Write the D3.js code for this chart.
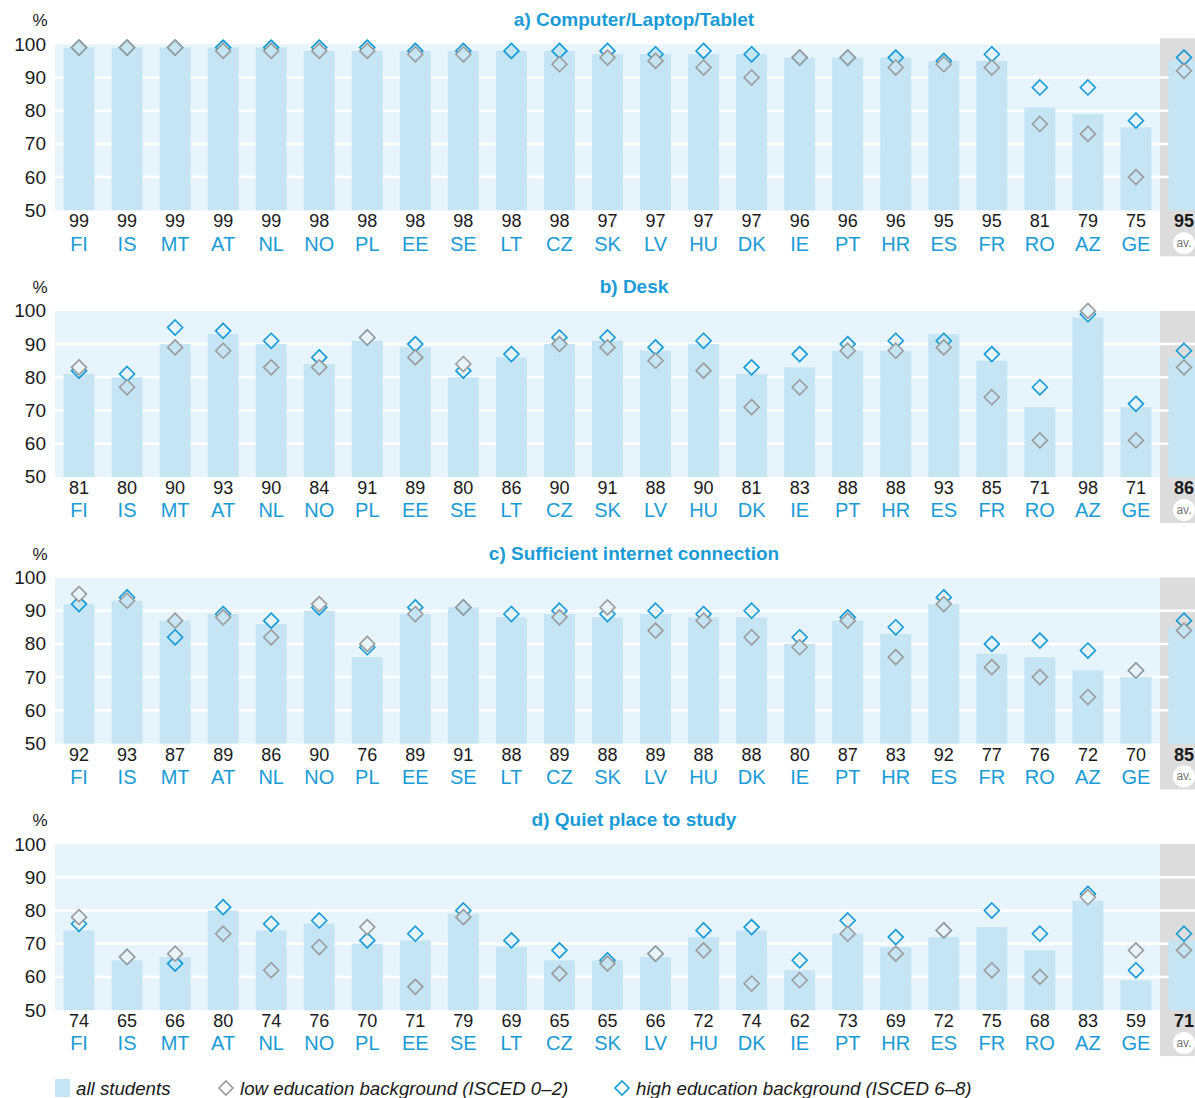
<!DOCTYPE html>
<html>
<head>
<meta charset="utf-8">
<script src="https://cdn.jsdelivr.net/npm/d3@7"></script>
<style>
  body { margin: 0; background: #fff; }
  svg { display: block; }
</style>
</head>
<body>
<svg id="chart"></svg>
<script>
// data, last entry of every series = average
const countries = ["FI", "IS", "MT", "AT", "NL", "NO", "PL", "EE", "SE", "LT", "CZ", "SK",
    "LV", "HU", "DK", "IE", "PT", "HR", "ES", "FR", "RO", "AZ", "GE", "av."];

const titles = ["a) Computer/Laptop/Tablet", "b) Desk", "c) Sufficient internet connection", "d) Quiet place to study"];
const yTicks = [50, 60, 70, 80, 90, 100];

const computerAll  = [99, 99, 99, 99, 99, 98, 98, 98, 98, 98, 98, 97, 97, 97, 97, 96, 96, 96, 95, 95, 81, 79, 75, 95];
const computerLow  = [99, 99, 99, 98, 98, 98, 98, 97, 97, null, 94, 96, 95, 93, 90, 96, 96, 93, 94, 93, 76, 73, 60, 92];
const computerHigh = [99, 99, 99, 99, 99, 99, 99, 98, 98, 98, 98, 98, 97, 98, 97, 96, 96, 96, 95, 97, 87, 87, 77, 96];

const deskAll  = [81, 80, 90, 93, 90, 84, 91, 89, 80, 86, 90, 91, 88, 90, 81, 83, 88, 88, 93, 85, 71, 98, 71, 86];
const deskLow  = [83, 77, 89, 88, 83, 83, 92, 86, 84, null, 90, 89, 85, 82, 71, 77, 88, 88, 89, 74, 61, 100, 61, 83];
const deskHigh = [82, 81, 95, 94, 91, 86, 92, 90, 82, 87, 92, 92, 89, 91, 83, 87, 90, 91, 91, 87, 77, 99, 72, 88];

const internetAll  = [92, 93, 87, 89, 86, 90, 76, 89, 91, 88, 89, 88, 89, 88, 88, 80, 87, 83, 92, 77, 76, 72, 70, 85];
const internetLow  = [95, 93, 87, 88, 82, 92, 80, 89, 91, null, 88, 91, 84, 87, 82, 79, 87, 76, 92, 73, 70, 64, 72, 84];
const internetHigh = [92, 94, 82, 89, 87, 91, 79, 91, 91, 89, 90, 89, 90, 89, 90, 82, 88, 85, 94, 80, 81, 78, 72, 87];

const quietAll  = [74, 65, 66, 80, 74, 76, 70, 71, 79, 69, 65, 65, 66, 72, 74, 62, 73, 69, 72, 75, 68, 83, 59, 71];
const quietLow  = [78, 66, 67, 73, 62, 69, 75, 57, 78, null, 61, 64, 67, 68, 58, 59, 73, 67, 74, 62, 60, 84, 68, 68];
const quietHigh = [76, 66, 64, 81, 76, 77, 71, 73, 80, 71, 68, 65, 67, 74, 75, 65, 77, 72, 74, 80, 73, 85, 62, 73];

const legendLabels = ["all students", "low education background (ISCED 0–2)", "high education background (ISCED 6–8)"];

const panels = [
    { title: titles[0], all: computerAll, low: computerLow, high: computerHigh },
    { title: titles[1], all: deskAll, low: deskLow, high: deskHigh },
    { title: titles[2], all: internetAll, low: internetLow, high: internetHigh },
    { title: titles[3], all: quietAll, low: quietLow, high: quietHigh }
];

const width = 1195;
const height = 1098;
const bandColor = "#e8f4fb";
const barColor = "#c5e5f5";
const greyColumn = "#dcdcdc";
const blue = "#1a9bd7";
const diamondBlue = "#0e9ad6";
const diamondGrey = "#9b9b9b";
const numFont = "'Liberation Sans', Arial, sans-serif";
const narrowFont = "'Liberation Sans Narrow', 'Liberation Sans', sans-serif";

const svg = d3.select("#chart")
    .attr("width", width)
    .attr("height", height);

// one band scale for all panels, the average sits in the last slot
const x = d3.scaleBand()
    .domain(countries)
    .range([55, 1208])
    .paddingInner(0.355)
    .paddingOuter(0.1775);
const step = x.step();
const plotLeft = 55;
const avLeft = plotLeft + step * (countries.length - 1);

function diamond(cx, cy, r) {
    return `M${cx},${cy - r}L${cx + r},${cy}L${cx},${cy + r}L${cx - r},${cy}Z`;
}

function drawPanel(panel, i) {
    let top = 44.3 + i * 266.6;
    let y = d3.scaleLinear().domain([50, 100]).range([top + 166, top]);
    let bottom = y(50);
    let g = svg.append("g").attr("class", "panel");

    // background band and the grey average column
    g.append("rect")
        .attr("x", plotLeft).attr("y", top)
        .attr("width", avLeft - plotLeft).attr("height", bottom - top)
        .attr("fill", bandColor);
    g.append("rect")
        .attr("x", avLeft).attr("y", i == 0 ? top - 6 : top)
        .attr("width", 1208 - avLeft).attr("height", bottom - top + 46 + (i == 0 ? 6 : 0))
        .attr("fill", greyColumn);

    // white gridlines
    g.selectAll(".grid")
        .data(yTicks.filter(t => t > 50 && t < 100))
        .enter()
        .append("line")
        .attr("x1", plotLeft).attr("x2", 1208)
        .attr("y1", d => y(d)).attr("y2", d => y(d))
        .attr("stroke", "#fff")
        .attr("stroke-width", 2.5);

    // bars for all students
    g.selectAll(".bar")
        .data(countries)
        .enter()
        .append("rect")
        .attr("x", d => x(d))
        .attr("width", x.bandwidth())
        .attr("y", (d, k) => y(panel.all[k]))
        .attr("height", (d, k) => bottom - y(panel.all[k]))
        .attr("fill", barColor);

    // diamonds: high first, low on top
    let series = [[panel.high, diamondBlue], [panel.low, diamondGrey]];
    for (let [values, color] of series) {
        g.selectAll(null)
            .data(countries.map((c, k) => ({ c: c, v: values[k], a: panel.all[k] })).filter(d => d.v != null))
            .enter()
            .append("path")
            .attr("d", d => diamond(x(d.c) + x.bandwidth() / 2, y(d.v), 7.5))
            .attr("fill", d => d.v <= d.a ? barColor : (d.c == "av." ? greyColumn : bandColor))
            .attr("stroke", color)
            .attr("stroke-width", 1.6);
    }

    // y axis labels
    let axisY = d3.axisLeft(y).tickValues(yTicks).tickSize(0).tickPadding(0);
    let ya = g.append("g")
        .attr("transform", `translate(46, 0)`)
        .call(axisY);
    ya.select(".domain").remove();
    ya.selectAll("text")
        .attr("fill", "#1a1a1a")
        .style("font-family", numFont)
        .style("font-size", "19px");

    g.append("text")
        .attr("x", 40).attr("y", top - 18)
        .attr("text-anchor", "middle")
        .attr("fill", "#1a1a1a")
        .style("font-family", numFont)
        .style("font-size", "17px")
        .text("%");

    g.append("text")
        .attr("x", 634).attr("y", top - 18)
        .attr("text-anchor", "middle")
        .attr("fill", blue)
        .style("font-family", narrowFont)
        .style("font-weight", "bold")
        .style("font-size", "19px")
        .text(panel.title);

    // values under the bars
    g.selectAll(".val")
        .data(countries)
        .enter()
        .append("text")
        .attr("x", d => x(d) + x.bandwidth() / 2)
        .attr("y", bottom + 17)
        .attr("text-anchor", "middle")
        .attr("fill", "#1a1a1a")
        .style("font-family", numFont)
        .style("font-size", "18px")
        .style("font-weight", d => d == "av." ? "bold" : "normal")
        .text((d, k) => panel.all[k]);

    // white circle behind "av."
    g.append("circle")
        .attr("cx", x("av.") + x.bandwidth() / 2)
        .attr("cy", bottom + 33)
        .attr("r", 11)
        .attr("fill", "#fff");

    // country labels
    let axisX = d3.axisBottom(x).tickSize(0).tickPadding(0);
    let xa = g.append("g")
        .attr("transform", `translate(0, ${bottom + 26})`)
        .call(axisX);
    xa.select(".domain").remove();
    xa.selectAll("text")
        .attr("fill", d => d == "av." ? "#777" : blue)
        .style("font-family", d => d == "av." ? numFont : narrowFont)
        .style("font-size", d => d == "av." ? "12px" : "20px")
        .attr("dy", d => d == "av." ? "0.3em" : "0.71em")
        .attr("y", d => d == "av." ? 7 : 0);
}

panels.forEach(drawPanel);

// legend
let legend = svg.append("g").attr("transform", "translate(0, 1088)");
legend.append("rect")
    .attr("x", 55).attr("y", -9)
    .attr("width", 15).attr("height", 18)
    .attr("fill", barColor);
legend.append("path")
    .attr("d", diamond(226, 0, 7))
    .attr("fill", "none")
    .attr("stroke", diamondGrey)
    .attr("stroke-width", 1.6);
legend.append("path")
    .attr("d", diamond(622, 0, 7))
    .attr("fill", "none")
    .attr("stroke", diamondBlue)
    .attr("stroke-width", 1.6);
legend.selectAll(".lt")
    .data(legendLabels)
    .enter()
    .append("text")
    .attr("x", (d, k) => [76, 240, 636][k])
    .attr("y", 0)
    .attr("dy", "0.35em")
    .attr("fill", "#1a1a1a")
    .style("font-family", numFont)
    .style("font-style", "italic")
    .style("font-size", "18.7px")
    .text(d => d);
</script>
</body>
</html>
